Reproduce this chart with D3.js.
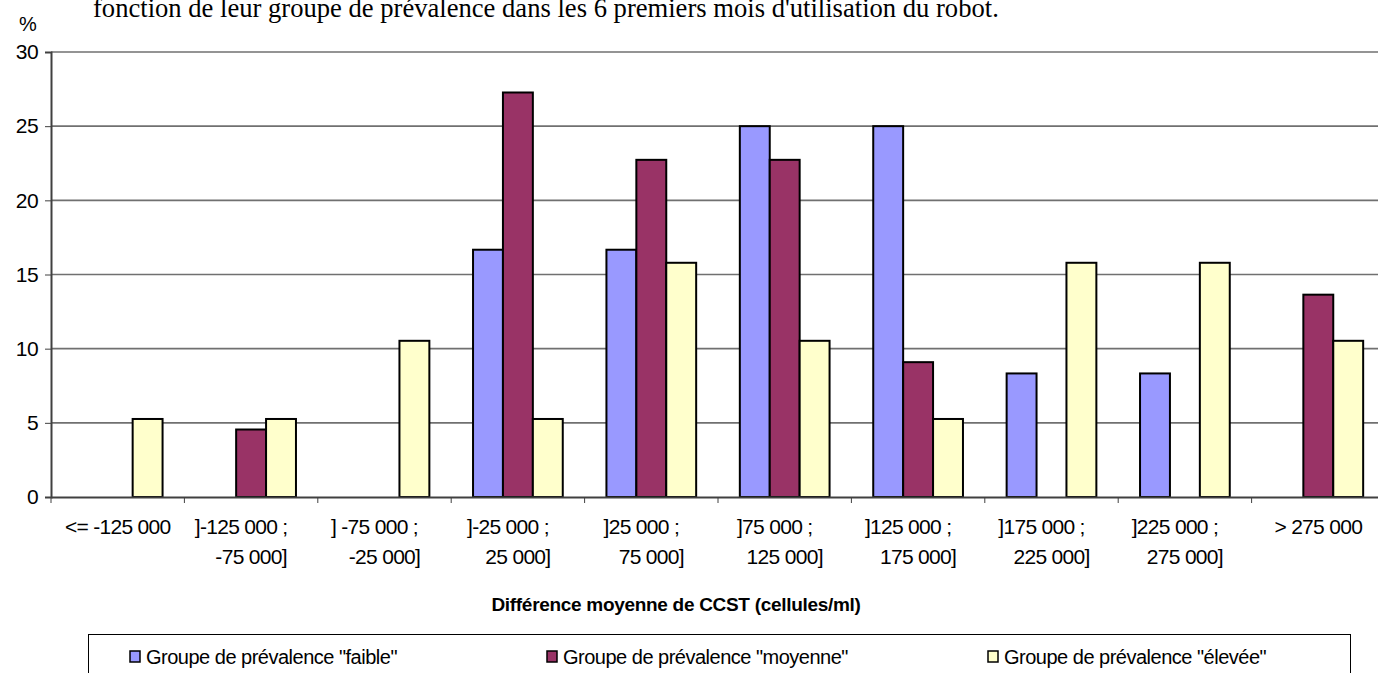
<!DOCTYPE html>
<html>
<head>
<meta charset="utf-8">
<script src="https://cdn.jsdelivr.net/npm/d3@7"></script>
<style>
  body { margin: 0; background: #fff; }
  svg { display: block; }
  text { font-family: "Liberation Sans", Arial, sans-serif; fill: #000; }
</style>
</head>
<body>
<div id="chart"></div>
<script>
// data
var categories = [
  ["<= -125 000"],
  ["]-125 000 ;", "-75 000]"],
  ["] -75 000 ;", "-25 000]"],
  ["]-25 000 ;", "25 000]"],
  ["]25 000 ;", "75 000]"],
  ["]75 000 ;", "125 000]"],
  ["]125 000 ;", "175 000]"],
  ["]175 000 ;", "225 000]"],
  ["]225 000 ;", "275 000]"],
  ["> 275 000"]
];
var seriesNames = ['Groupe de prévalence "faible"', 'Groupe de prévalence "moyenne"', 'Groupe de prévalence "élevée"'];
var faible  = [0, 0, 0, 16.67, 16.67, 25, 25, 8.33, 8.33, 0];
var moyenne = [0, 4.55, 0, 27.27, 22.73, 22.73, 9.09, 0, 0, 13.64];
var elevee  = [5.26, 5.26, 10.53, 5.26, 15.79, 10.53, 5.26, 15.79, 15.79, 10.53];
var colors = ["#9999ff", "#993366", "#ffffcc"];
var yTicks = [0, 5, 10, 15, 20, 25, 30];
var title = "fonction de leur groupe de prévalence dans les 6 premiers mois d'utilisation du robot.";

var W = 1378, H = 673;
var svg = d3.select("#chart").append("svg")
  .attr("width", W).attr("height", H);

var plotL = 51, plotR = 1385, plotT = 52, plotB = 497;

var x = d3.scaleBand().domain(d3.range(categories.length)).range([plotL, plotR]);
var inner = d3.scaleBand().domain([0, 1, 2]).range([0, x.bandwidth()]).paddingOuter(0.73).paddingInner(0);
var y = d3.scaleLinear().domain([0, 30]).range([plotB, plotT]);

// title line (cut at top in original)
svg.append("text")
  .attr("x", 93).attr("y", 17)
  .style("font-family", '"Liberation Serif", "Times New Roman", serif')
  .style("font-size", "26.6px")
  .text(title);

// grid
svg.append("g").selectAll("line").data(yTicks.filter(function (d) { return d > 0; }))
  .enter().append("line")
  .attr("x1", plotL).attr("x2", W)
  .attr("y1", function (d) { return y(d); }).attr("y2", function (d) { return y(d); })
  .style("stroke", "#707070").style("stroke-width", 1.6);

// bars
var series = [faible, moyenne, elevee];
series.forEach(function (vals, s) {
  var pts = vals.map(function (v, i) { return {i: i, v: v}; }).filter(function (d) { return d.v > 0; });
  svg.append("g").selectAll("rect").data(pts)
    .enter().append("rect")
    .attr("x", function (d) { return x(d.i) + inner(s); })
    .attr("y", function (d) { return y(d.v); })
    .attr("width", inner.bandwidth())
    .attr("height", function (d) { return plotB - y(d.v); })
    .style("fill", colors[s]).style("stroke", "#000").style("stroke-width", 2);
});

// y axis
var yAxis = svg.append("g").attr("transform", "translate(" + plotL + ",0)")
  .call(d3.axisLeft(y).tickValues(yTicks).tickSize(6).tickPadding(7));
yAxis.select(".domain").style("stroke", "#404040").style("stroke-width", 2);
yAxis.selectAll(".tick line").style("stroke", "#404040");
yAxis.selectAll("text").style("font-size", "21px").style("font-family", '"Liberation Sans", Arial, sans-serif')
  .style("letter-spacing", "-0.6px");

svg.append("text").attr("x", 28).attr("y", 31).attr("text-anchor", "middle")
  .style("font-size", "20px").text("%");

// x axis
var xAxis = svg.append("g").attr("transform", "translate(0," + plotB + ")")
  .call(d3.axisBottom(x).tickSize(0).tickFormat(""));
xAxis.select(".domain").style("stroke", "#404040").style("stroke-width", 2);
svg.append("g").selectAll("line").data(d3.range(categories.length + 1))
  .enter().append("line")
  .attr("x1", function (d) { return plotL + d * x.step(); })
  .attr("x2", function (d) { return plotL + d * x.step(); })
  .attr("y1", plotB).attr("y2", plotB + 6)
  .style("stroke", "#404040").style("stroke-width", 1);

var labels = svg.append("g").selectAll("text").data(categories).enter()
  .append("text")
  .attr("text-anchor", "middle")
  .style("font-size", "21px")
  .style("letter-spacing", "-0.7px")
  .attr("transform", function (d, i) { return "translate(" + (x(i) + x.bandwidth() / 2) + ",534)"; });
labels.each(function (lines) {
  var t = d3.select(this);
  lines.forEach(function (l, k) {
    t.append("tspan").attr("x", lines.length > 1 && k === 0 ? -10 : 0)
      .attr("y", k * 30).text(l);
  });
});

svg.append("text").attr("x", 676).attr("y", 611).attr("text-anchor", "middle")
  .style("font-size", "19px").style("font-weight", "bold").style("letter-spacing", "-0.3px")
  .text("Différence moyenne de CCST (cellules/ml)");

// legend
var legend = svg.append("g");
legend.append("rect").attr("x", 88.5).attr("y", 634.5).attr("width", 1262).attr("height", 60)
  .style("fill", "#fff").style("stroke", "#000").style("stroke-width", 1);
var legX = [130, 547, 988];
seriesNames.forEach(function (name, s) {
  legend.append("rect").attr("x", legX[s]).attr("y", 651).attr("width", 10).attr("height", 11)
    .style("fill", colors[s]).style("stroke", "#000").style("stroke-width", 1.5);
  legend.append("text").attr("x", legX[s] + 16).attr("y", 664)
    .style("font-size", "20px").style("letter-spacing", "-0.5px").text(name);
});
</script>
</body>
</html>
